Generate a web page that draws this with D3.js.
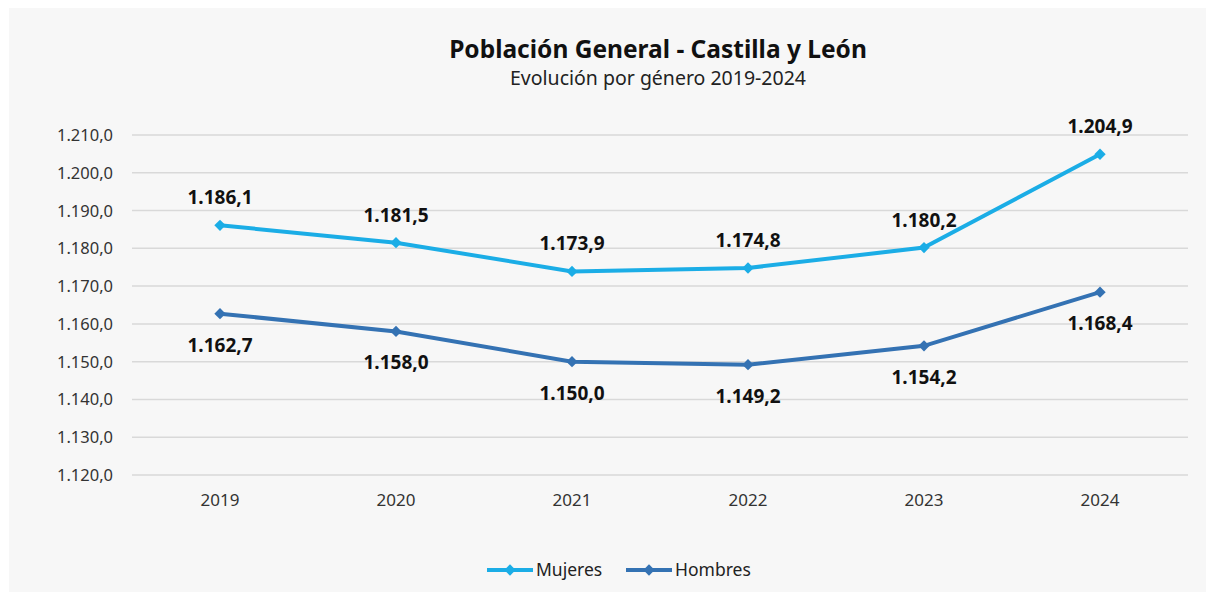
<!DOCTYPE html>
<html>
<head>
<meta charset="utf-8">
<script src="https://cdn.jsdelivr.net/npm/d3@7"></script>
<style>
  body { margin: 0; background: #fff; }
  svg { display: block; font-family: "Noto Sans", sans-serif; }
</style>
</head>
<body>
<svg></svg>
<script>
let width = 1214;
let height = 597;

const years = ['2019', '2020', '2021', '2022', '2023', '2024'];
const mujeres = [1186.1, 1181.5, 1173.9, 1174.8, 1180.2, 1204.9];
const hombres = [1162.7, 1158.0, 1150.0, 1149.2, 1154.2, 1168.4];
const yTicks = [1120, 1130, 1140, 1150, 1160, 1170, 1180, 1190, 1200, 1210];

const series = [
  { name: 'Mujeres', values: mujeres, color: '#1badE6', labelDy: -21 },
  { name: 'Hombres', values: hombres, color: '#3472b3', labelDy: 38 }
];

const fmt = d3.formatLocale({ decimal: ',', thousands: '.', grouping: [3], currency: ['', '€'] });
const f1 = fmt.format(',.1f');

let svg = d3.select('svg')
            .attr('width', width)
            .attr('height', height);

svg.append('rect')
   .attr('x', 9).attr('y', 8)
   .attr('width', 1197).attr('height', 584)
   .attr('fill', '#f7f7f7');

let x = d3.scaleBand()
          .domain(years)
          .range([132, 1188]);

let y = d3.scaleLinear()
          .domain([1120, 1210])
          .range([475, 135]);

// grid
svg.append('g')
   .selectAll('line')
   .data(yTicks)
   .enter()
   .append('line')
     .attr('x1', 132).attr('x2', 1188)
     .attr('y1', d => y(d)).attr('y2', d => y(d))
     .attr('stroke', '#d9d9d9')
     .attr('stroke-width', 1.5);

// y axis labels
svg.append('g')
   .selectAll('text')
   .data(yTicks)
   .enter()
   .append('text')
     .attr('x', 113)
     .attr('y', d => y(d) + 6)
     .attr('text-anchor', 'end')
     .style('font-size', '16.5px')
     .attr('fill', '#333')
     .text(d => f1(d));

// x axis labels
svg.append('g')
   .selectAll('text')
   .data(years)
   .enter()
   .append('text')
     .attr('x', d => x(d) + x.bandwidth() / 2)
     .attr('y', 506)
     .attr('text-anchor', 'middle')
     .style('font-size', '17px')
     .attr('fill', '#333')
     .text(d => d);

let line = d3.line()
             .x((d, i) => x(years[i]) + x.bandwidth() / 2)
             .y(d => y(d));

let marker = d3.symbol().type(d3.symbolSquare).size(64);

series.forEach(s => {
  let g = svg.append('g');
  g.append('path')
     .attr('d', line(s.values))
     .attr('fill', 'none')
     .attr('stroke', s.color)
     .attr('stroke-width', 4);
  g.selectAll('.pt')
   .data(s.values)
   .enter()
   .append('path')
     .attr('transform', (d, i) => `translate(${x(years[i]) + x.bandwidth() / 2}, ${y(d)}) rotate(45)`)
     .attr('d', marker)
     .attr('fill', s.color);
  g.selectAll('.lbl')
   .data(s.values)
   .enter()
   .append('text')
     .attr('x', (d, i) => x(years[i]) + x.bandwidth() / 2)
     .attr('y', d => y(d) + s.labelDy)
     .attr('text-anchor', 'middle')
     .style('font-size', '19px')
     .style('font-weight', 'bold')
     .attr('fill', '#111')
     .text(d => f1(d));
});

// titles
svg.append('text')
   .attr('x', 658).attr('y', 58)
   .attr('text-anchor', 'middle')
   .style('font-size', '24.5px')
   .style('font-weight', 'bold')
   .attr('fill', '#111')
   .text('Población General - Castilla y León');

svg.append('text')
   .attr('x', 658).attr('y', 85)
   .attr('text-anchor', 'middle')
   .style('font-size', '19.5px')
   .attr('fill', '#222')
   .text('Evolución por género 2019-2024');

// legend
let legendX = [487, 626];
series.forEach((s, i) => {
  let lg = svg.append('g').attr('transform', `translate(${legendX[i]}, 570)`);
  lg.append('line')
    .attr('x1', 0).attr('x2', 46)
    .attr('stroke', s.color)
    .attr('stroke-width', 4);
  lg.append('path')
    .attr('transform', 'translate(23, 0) rotate(45)')
    .attr('d', marker)
    .attr('fill', s.color);
  lg.append('text')
    .attr('x', 49).attr('y', 6)
    .style('font-size', '17.5px')
    .attr('fill', '#222')
    .text(s.name);
});
</script>
</body>
</html>
